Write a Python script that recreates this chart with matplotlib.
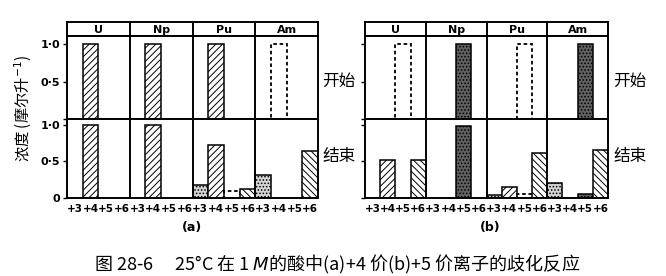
import matplotlib.pyplot as plt
import numpy as np

plt.rcParams['font.family'] = ['Noto Sans CJK SC', 'DejaVu Sans']
plt.rcParams['hatch.linewidth'] = 0.7

# Data: 4 elements x 4 oxidation states (+3, +4, +5, +6)
elements = ['U', 'Np', 'Pu', 'Am']
states = ['+3', '+4', '+5', '+6']

# (a) starting from +4
a_start = [0, 1.0, 0, 0,  0, 1.0, 0, 0,  0, 1.0, 0, 0,  0, 1.0, 0, 0]
a_end = [0, 1.0, 0, 0,  0, 1.0, 0, 0,  0.18, 0.73, 0.09, 0.12,  0.31, 0, 0, 0.64]
# (b) starting from +5
b_start = [0, 0, 1.0, 0,  0, 0, 1.0, 0,  0, 0, 1.0, 0,  0, 0, 1.0, 0]
b_end = [0, 0.52, 0, 0.52,  0, 0, 0.98, 0,  0.04, 0.15, 0.06, 0.62,  0.21, 0, 0.06, 0.65]

# bar styles (kept apart from the values)
a_start_style = ['', 'fwd', '', ''] * 3 + ['', 'dash', '', '']
a_end_style = ['dots', 'fwd', 'dash', 'back'] * 4
b_start_style = ['', '', 'dash', '', '', '', 'dense', '', '', '', 'dash', '', '', '', 'dense', '']
b_end_style = ['dots', 'fwd', '', 'back',  '', '', 'dense', '',
               'dots', 'fwd', 'dash', 'back',  'dots', '', 'dense', 'back']

STYLE = {
    'fwd': dict(facecolor='white', edgecolor='black', hatch='/////', linewidth=1.1),
    'back': dict(facecolor='white', edgecolor='black', hatch='\\\\\\\\\\', linewidth=1.1),
    'dots': dict(facecolor='#d4d4d4', edgecolor='black', hatch='.....', linewidth=1.1),
    'dense': dict(facecolor='#606060', edgecolor='black', hatch='.....', linewidth=1.1),
    'dash': dict(facecolor='none', edgecolor='black', linestyle=(0, (2, 1.5)), linewidth=1.3),
}

fig = plt.figure(figsize=(6.66, 2.76), dpi=100)


def fx(px):
    return px / 666


def fy(py):
    return 1 - py / 276


def draw_bars(ax, vals, styles):
    for xi, v, s in zip(range(len(vals)), vals, styles):
        if v <= 0 or not s:
            continue
        ax.bar(xi, v, width=1.0, **STYLE[s])


def frame(ax):
    ax.set_xlim(-0.5, 15.5)
    for sp in ax.spines.values():
        sp.set_linewidth(1.4)
    for xv in [3.5, 7.5, 11.5]:
        ax.axvline(xv, color='black', linewidth=1.4)


def make_panel(left, right, start, end, s_style, e_style, ylabels):
    w = (right - left) / 666
    hdr = fig.add_axes([fx(left), fy(36), w, 14 / 276])
    top = fig.add_axes([fx(left), fy(119), w, 83 / 276])
    bot = fig.add_axes([fx(left), fy(198), w, 79 / 276])

    frame(hdr)
    hdr.set_ylim(0, 1)
    hdr.set_xticks([])
    hdr.set_yticks([])
    for i, el in enumerate(elements):
        hdr.text(4 * i + 1.5, 0.45, el, ha='center', va='center',
                 fontsize=8, fontweight='bold', family='DejaVu Sans')

    for ax, vals, sty, ylim, labs in [
            (top, start, s_style, (0, 1.107), ['', '0·5', '1·0']),
            (bot, end, e_style, (0, 1.08), ['0', '0·5', '1·0'])]:
        frame(ax)
        draw_bars(ax, vals, sty)
        ax.set_ylim(*ylim)
        ax.set_yticks([0, 0.5, 1.0])
        ax.tick_params(axis='y', length=3, width=1, pad=2)
        if ylabels:
            ax.set_yticklabels(labs, fontsize=8, fontweight='bold',
                               family='DejaVu Sans')
        else:
            ax.set_yticklabels([])
    top.set_xticks([])
    bot.set_xticks(range(16))
    bot.set_xticklabels(states * 4, fontsize=7.5, fontweight='bold',
                        family='DejaVu Sans')
    bot.tick_params(axis='x', length=0, pad=4)


make_panel(67, 318, a_start, a_end, a_start_style, a_end_style, True)
make_panel(365, 608, b_start, b_end, b_start_style, b_end_style, False)

# y label
fig.text(fx(23), fy(108), '浓度 (摩尔升$^{-1}$)', rotation=90,
         ha='center', va='center', fontsize=11)

# row labels
for xp in [322, 613]:
    fig.text(fx(xp), fy(81), '开始', ha='left', va='center', fontsize=12)
    fig.text(fx(xp), fy(157), '结束', ha='left', va='center', fontsize=12)

# panel labels
fig.text(fx(192), fy(227), '(a)', ha='center', va='center', fontsize=9,
         fontweight='bold', family='DejaVu Sans')
fig.text(fx(490), fy(228), '(b)', ha='center', va='center', fontsize=9,
         fontweight='bold', family='DejaVu Sans')

# caption
fig.text(fx(337), fy(264), '图 28-6　 25°C 在 1 $M$的酸中(a)+4 价(b)+5 价离子的歧化反应',
         ha='center', va='center', fontsize=13)

fig.savefig('out.png', dpi=100)
